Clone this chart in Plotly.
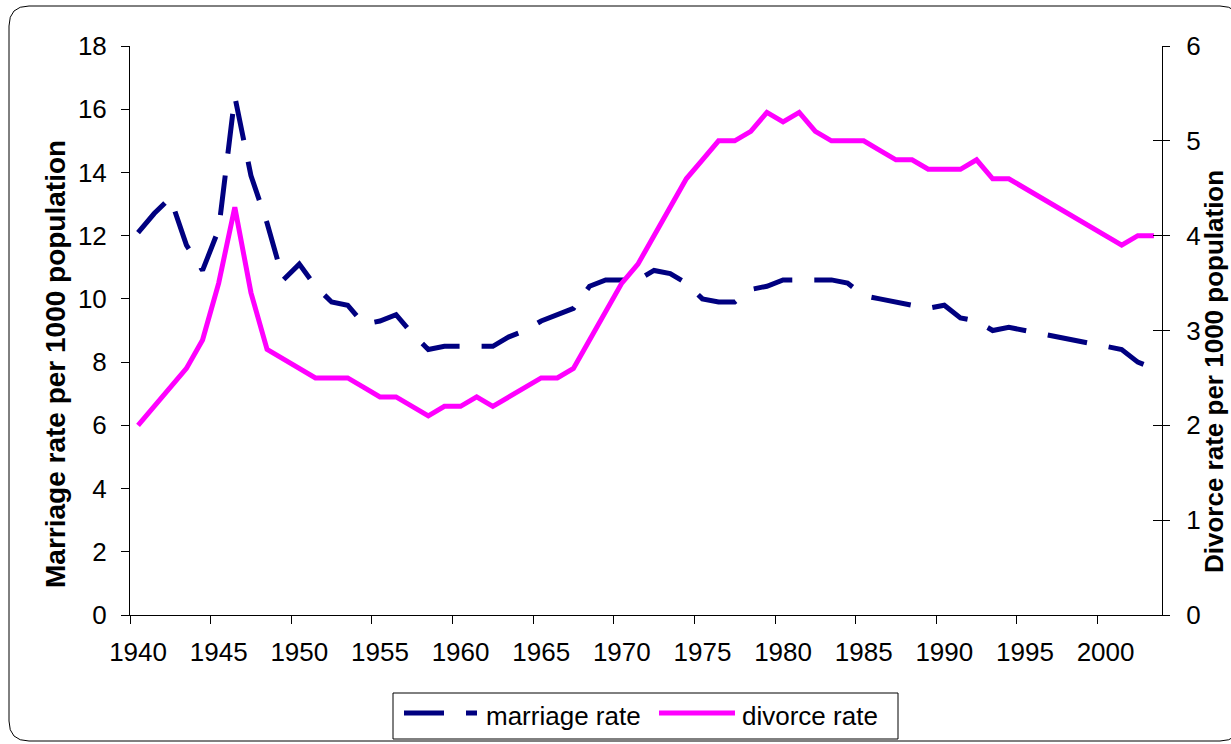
import plotly.graph_objects as go

# ---------------- data ----------------
years = list(range(1940, 2004))

marriage_rate = [
    12.1, 12.7, 13.2, 11.7, 10.9, 12.2, 16.4, 13.9, 12.4, 10.6,
    11.1, 10.4, 9.9, 9.8, 9.2, 9.3, 9.5, 8.9, 8.4, 8.5,
    8.5, 8.5, 8.5, 8.8, 9.0, 9.3, 9.5, 9.7, 10.4, 10.6,
    10.6, 10.6, 10.9, 10.8, 10.5, 10.0, 9.9, 9.9, 10.3, 10.4,
    10.6, 10.6, 10.6, 10.6, 10.5, 10.1, 10.0, 9.9, 9.8, 9.7,
    9.8, 9.4, 9.3, 9.0, 9.1, 9.0, 8.9, 8.8, 8.7, 8.6,
    8.5, 8.4, 8.0, 7.8,
]

divorce_rate = [
    2.0, 2.2, 2.4, 2.6, 2.9, 3.5, 4.3, 3.4, 2.8, 2.7,
    2.6, 2.5, 2.5, 2.5, 2.4, 2.3, 2.3, 2.2, 2.1, 2.2,
    2.2, 2.3, 2.2, 2.3, 2.4, 2.5, 2.5, 2.6, 2.9, 3.2,
    3.5, 3.7, 4.0, 4.3, 4.6, 4.8, 5.0, 5.0, 5.1, 5.3,
    5.2, 5.3, 5.1, 5.0, 5.0, 5.0, 4.9, 4.8, 4.8, 4.7,
    4.7, 4.7, 4.8, 4.6, 4.6, 4.5, 4.4, 4.3, 4.2, 4.1,
    4.0, 3.9, 4.0, 4.0,
]

x_label_years = [1940, 1945, 1950, 1955, 1960, 1965, 1970,
                 1975, 1980, 1985, 1990, 1995, 2000]
left_ticks = [0, 2, 4, 6, 8, 10, 12, 14, 16, 18]
right_ticks = [0, 1, 2, 3, 4, 5, 6]

series_names = ["marriage rate", "divorce rate"]
left_title = "Marriage rate per 1000 population"
right_title = "Divorce rate per 1000 population"

# ---------------- style ----------------
W, H = 1231, 744
ML, MR, MT, MB = 130, 69, 46, 129
PW, PH = W - ML - MR, H - MT - MB
FONT = 'Arial, "Liberation Sans", sans-serif'
FS = 26
NAVY = "#000080"
MAGENTA = "#FF00FF"
DASH = "40px,22px"


def px(x):
    return (x - ML) / PW


def py(y):
    return (H - MB - y) / PH


fig = go.Figure()
fig.add_trace(go.Scatter(
    x=years, y=marriage_rate, mode="lines", name=series_names[0],
    line=dict(color=NAVY, width=5, dash=DASH),
    xaxis="x", yaxis="y", showlegend=False, hoverinfo="skip"))
fig.add_trace(go.Scatter(
    x=years, y=divorce_rate, mode="lines", name=series_names[1],
    line=dict(color=MAGENTA, width=5),
    xaxis="x", yaxis="y2", showlegend=False, hoverinfo="skip"))
# helper (empty) traces so the tick-only overlay axes exist
fig.add_trace(go.Scatter(x=[], y=[], xaxis="x2", yaxis="y",
                         showlegend=False, hoverinfo="skip"))
fig.add_trace(go.Scatter(x=[], y=[], xaxis="x", yaxis="y3",
                         showlegend=False, hoverinfo="skip"))

xrange_ = [years[0] - 0.5, years[-1] + 0.5]
tickfont = dict(family=FONT, size=FS, color="black")

fig.update_layout(
    width=W, height=H,
    margin=dict(l=ML, r=MR, t=MT, b=MB, autoexpand=False),
    paper_bgcolor="white", plot_bgcolor="white",
    showlegend=False,
    font=dict(family=FONT, size=FS, color="black"),
    xaxis=dict(
        range=xrange_, tickmode="array", tickvals=x_label_years,
        ticktext=[str(v) for v in x_label_years],
        ticks="outside", ticklen=8, tickcolor="rgba(0,0,0,0)",
        ticklabelstandoff=6,
        showline=True, linecolor="black", linewidth=1,
        showgrid=False, zeroline=False, tickfont=tickfont,
        anchor="y", fixedrange=True),
    xaxis2=dict(
        range=xrange_, overlaying="x", anchor="y", side="bottom",
        tickmode="array", tickvals=[v - 0.5 for v in x_label_years],
        ticks="outside", ticklen=8, tickcolor="black", tickwidth=1,
        showticklabels=False, showline=False, showgrid=False,
        zeroline=False),
    yaxis=dict(
        range=[0, 18], tickmode="array", tickvals=left_ticks,
        ticks="outside", ticklen=8, tickcolor="black",
        ticklabelstandoff=9,
        showline=True, linecolor="black", linewidth=1,
        showgrid=False, zeroline=False, tickfont=tickfont,
        anchor="x"),
    yaxis2=dict(
        range=[0, 6], tickmode="array", tickvals=right_ticks,
        overlaying="y", side="right", anchor="x",
        ticks="outside", ticklen=7, tickcolor="black",
        ticklabelstandoff=11,
        showline=True, linecolor="black", linewidth=1,
        showgrid=False, zeroline=False, tickfont=tickfont),
    yaxis3=dict(
        range=[0, 6], tickmode="array", tickvals=right_ticks,
        overlaying="y", side="right", anchor="x",
        ticks="inside", ticklen=9, tickcolor="black",
        showticklabels=False, showline=False, showgrid=False,
        zeroline=False),
)

# ---------------- chart-area border (rounded) ----------------
bx0, by0, bx1, by1, r = 9, 6, 1240, 741, 20
path = (
    f"M {px(bx0)},{py(by0 + r)} "
    f"Q {px(bx0)},{py(by0)} {px(bx0 + r)},{py(by0)} "
    f"L {px(bx1 - r)},{py(by0)} "
    f"Q {px(bx1)},{py(by0)} {px(bx1)},{py(by0 + r)} "
    f"L {px(bx1)},{py(by1 - r)} "
    f"Q {px(bx1)},{py(by1)} {px(bx1 - r)},{py(by1)} "
    f"L {px(bx0 + r)},{py(by1)} "
    f"Q {px(bx0)},{py(by1)} {px(bx0)},{py(by1 - r)} Z"
)
shapes = [dict(type="path", path=path, xref="paper", yref="paper",
               line=dict(color="black", width=1), layer="below")]

# ---------------- legend (drawn manually to match sample length) ----------------
shapes.append(dict(type="rect", xref="paper", yref="paper",
                   x0=px(393), x1=px(898), y0=py(739), y1=py(693),
                   line=dict(color="black", width=1), fillcolor="white"))
shapes.append(dict(type="line", xref="paper", yref="paper",
                   x0=px(404), x1=px(477), y0=py(713), y1=py(713),
                   line=dict(color=NAVY, width=5, dash=DASH)))
shapes.append(dict(type="line", xref="paper", yref="paper",
                   x0=px(659), x1=px(735), y0=py(713), y1=py(713),
                   line=dict(color=MAGENTA, width=5)))

annotations = [
    dict(text=series_names[0], x=px(484), y=py(716), xref="paper", yref="paper",
         xanchor="left", yanchor="middle", showarrow=False,
         font=dict(family=FONT, size=FS, color="black")),
    dict(text=series_names[1], x=px(740), y=py(716), xref="paper", yref="paper",
         xanchor="left", yanchor="middle", showarrow=False,
         font=dict(family=FONT, size=FS, color="black")),
    dict(text=f"<b>{left_title}</b>", x=px(55), y=py(364), xref="paper", yref="paper",
         xanchor="center", yanchor="middle", textangle=-90, showarrow=False,
         font=dict(family=FONT, size=28, color="black")),
    dict(text=f"<b>{right_title}</b>", x=px(1214), y=py(372), xref="paper", yref="paper",
         xanchor="center", yanchor="middle", textangle=-90, showarrow=False,
         font=dict(family=FONT, size=26, color="black")),
]

fig.update_layout(shapes=shapes, annotations=annotations)

fig.write_html("out.html", config={"displayModeBar": False},
               post_script="document.body.style.margin='0';document.body.style.overflow='hidden';")
